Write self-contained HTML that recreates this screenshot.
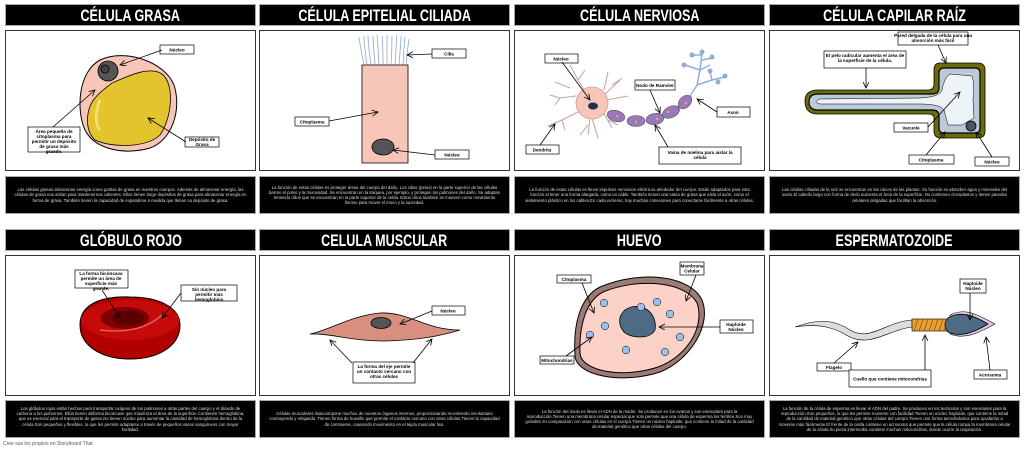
<!DOCTYPE html>
<html><head><meta charset="utf-8"><style>
*{margin:0;padding:0;box-sizing:border-box}
body{width:1024px;height:449px;background:#fff;position:relative;overflow:hidden;font-family:"Liberation Sans",sans-serif}
.t{position:absolute;height:22px;background:#000;color:#fff;font-weight:bold;font-size:17px;text-align:center;line-height:22px;border:1px solid #aaa;white-space:nowrap;overflow:hidden}
.t span{display:inline-block;transform:scaleX(0.74);transform-origin:center}
.b{position:absolute;height:141px;border:1px solid #333;background:#fff}
.d{position:absolute;height:38px;background:#000;border:1px solid #aaa;color:#ddd;font-size:4.3px;line-height:5.2px;text-align:center;display:flex;align-items:center;justify-content:center;padding:0 8px}
.f{position:absolute;left:3px;top:441px;font-size:5px;color:#555}
svg{position:absolute;left:0;top:0}
</style></head><body>
<div class="t" style="left:5px;top:4px;width:251px"><span>CÉLULA GRASA</span></div>
<div class="t" style="left:259px;top:4px;width:251px"><span>CÉLULA EPITELIAL CILIADA</span></div>
<div class="t" style="left:514px;top:4px;width:251px"><span>CÉLULA NERVIOSA</span></div>
<div class="t" style="left:769px;top:4px;width:251px"><span>CÉLULA CAPILAR RAÍZ</span></div>
<div class="b" style="left:5px;top:30px;width:251px"></div>
<div class="b" style="left:259px;top:30px;width:251px"></div>
<div class="b" style="left:514px;top:30px;width:251px"></div>
<div class="b" style="left:769px;top:30px;width:251px"></div>
<div class="d" style="left:5px;top:176px;width:251px">Las células grasas almacenan energía como gotitas de grasa en nuestros cuerpos. Además de almacenar energía, las células de grasa nos aíslan para mantenernos calientes. Ellos tienen large depósitos de grasa para almacenar energía en forma de grasa. También tienen la capacidad de expandirse a medida que llenan su depósito de grasa.</div>
<div class="d" style="left:259px;top:176px;width:251px">La función de estas células es proteger áreas del cuerpo del daño. Los cilios (pelos) en la parte superior de las células barren el polvo y la mucosidad. Se encuentran en la tráquea, por ejemplo, y protegen los pulmones del daño. Se adaptan teniendo cilios que se encuentran en la parte superior de la celda. Estos cilios también se mueven como movimiento lloroso para mover el moco y la suciedad.</div>
<div class="d" style="left:514px;top:176px;width:251px">La función de estas células es llevar impulsos nerviosos eléctricos alrededor del cuerpo. Están adaptados para esta función al tener una forma alargada, como un cable. También tienen una vaina de grasa que aísla el axón, como el aislamiento plástico en los cables.En cada extremo, hay muchas conexiones para conectarse fácilmente a otras células.</div>
<div class="d" style="left:769px;top:176px;width:251px">Las células ciliadas de la raíz se encuentran en las raíces de las plantas. Su función es absorber agua y minerales del suelo.El cabello largo con forma de dedo aumenta el área de la superficie. No contienen cloroplastos y tienen paredes celulares delgadas que facilitan la absorción.</div>

<div class="t" style="left:5px;top:229px;width:251px"><span>GLÓBULO ROJO</span></div>
<div class="t" style="left:259px;top:229px;width:251px"><span>CELULA MUSCULAR</span></div>
<div class="t" style="left:514px;top:229px;width:251px"><span>HUEVO</span></div>
<div class="t" style="left:769px;top:229px;width:251px"><span>ESPERMATOZOIDE</span></div>
<div class="b" style="left:5px;top:255px;width:251px"></div>
<div class="b" style="left:259px;top:255px;width:251px"></div>
<div class="b" style="left:514px;top:255px;width:251px"></div>
<div class="b" style="left:769px;top:255px;width:251px"></div>
<div class="d" style="left:5px;top:400px;width:251px">Los glóbulos rojos están hechos para transportar oxígeno de los pulmones a otras partes del cuerpo y el dióxido de carbono a los pulmones. Ellos tienen abforma biconcave que maximiza el área de la superficie.Contienen hemoglobina, que es esencial para el transporte de gases.No tienen núcleo para aumentar la cantidad de hemoglobina dentro de la célula.Son pequeños y flexibles, lo que les permite adaptarse a través de pequeños vasos sanguíneos con mayor facilidad.</div>
<div class="d" style="left:259px;top:400px;width:251px">Células musculares lisascompone muchos de nuestros órganos internos, proporcionando movimiento involuntario contrayendo y relajando. Tienen forma de huesillo que permite el contacto cercano con otras células.Tienen la capacidad de contraerse, causando movimiento en el tejido muscular liso.</div>
<div class="d" style="left:514px;top:400px;width:251px">La función del óvulo es llevar el ADN de la madre. Se producen en los ovarios y son esenciales para la reproducción.Tienen una membrana celular especial que solo permite que una célula de esperma los fertilice.Son muy grandes en comparación con otras células en el cuerpo.Tienen un núcleo haploide, que contiene la mitad de la cantidad de material genético que otras células del cuerpo.</div>
<div class="d" style="left:769px;top:400px;width:251px">La función de la célula de esperma es llevar el ADN del padre. Se producen en los testículos y son esenciales para la reproducción.Son pequeños, lo que les permite moverse con facilidad.Tienen un núcleo haploide, que contiene la mitad de la cantidad de material genético que otras células del cuerpo.Tienen una forma aerodinámica para ayudarlos a moverse más fácilmente.El frente de la celda contiene un acrosoma que permite que la célula rompa la membrana celular de la célula.Su pieza intermedia contiene muchas mitocondrias, donde ocurre la respiración.</div>
<div class="f">Cree sus los propios en Storyboard That</div>

<svg width="1024" height="449" viewBox="0 0 1024 449" font-family="Liberation Sans, sans-serif" font-size="4.6" font-weight="bold">
<defs><marker id="a" markerWidth="8" markerHeight="8" refX="6" refY="3" orient="auto" markerUnits="userSpaceOnUse"><path d="M0,0 L6,3 L0,6" fill="none" stroke="#000" stroke-width="0.8"/></marker></defs>
<g stroke="#000" stroke-width="0.8">
<path d="M100,60 C125,48 165,62 174,85 C182,110 172,140 150,148 C125,155 95,150 85,130 C76,110 78,72 100,60Z" fill="#f7c6b9" stroke-width="1"/>
<path d="M112,83 C130,75 150,66 162,74 C175,84 172,118 160,135 C146,148 112,148 95,140 C84,130 86,108 95,98 C102,90 106,88 112,83Z" fill="#e3c42e"/>
<path d="M100,100 C95,112 95,124 100,130" stroke="#f0df70" stroke-width="3" fill="none"/>
<circle cx="108" cy="71" r="10" fill="#555"/><circle cx="105" cy="69" r="4" fill="#444"/>
<g fill="#fff" stroke-width="0.7"><rect x="160" y="45" width="34" height="9"/><rect x="28" y="127" width="52" height="25"/><rect x="185" y="137" width="34" height="10"/></g>
<g fill="none" marker-end="url(#a)"><line x1="162" y1="50" x2="120" y2="65"/><line x1="53" y1="127" x2="95" y2="90"/><line x1="186" y1="142" x2="148" y2="118"/></g>
<g stroke="#8fa8c8" stroke-width="0.8" fill="none">
<path d="M364,65 C361,50 360,45 359,37"/><path d="M367,65 C365,50 364,44 364,36"/><path d="M371,65 C369,50 368,44 368,35"/><path d="M375,65 C374,50 373,44 373,36"/><path d="M379,65 C378,50 378,44 377,35"/><path d="M383,65 C383,50 383,44 382,36"/><path d="M387,65 C387,50 387,44 387,35"/><path d="M391,65 C392,50 392,44 392,36"/><path d="M395,65 C396,50 396,44 397,35"/><path d="M399,65 C400,50 401,44 401,36"/><path d="M403,65 C404,50 404,44 405,37"/><path d="M406,65 C407,52 408,46 409,39"/></g>
<path d="M362,65 L408,65 L408,163 L362,163Z" fill="#f7c6b9"/>
<ellipse cx="383" cy="147" rx="11" ry="8" fill="#555"/>
<g fill="#fff" stroke-width="0.7"><rect x="432" y="49" width="34" height="9"/><rect x="295" y="117" width="34" height="9"/><rect x="435" y="150" width="34" height="9"/></g>
<g fill="none" marker-end="url(#a)"><line x1="432" y1="54" x2="407" y2="55"/><line x1="329" y1="121" x2="378" y2="112"/><line x1="435" y1="155" x2="393" y2="150"/></g>
<g stroke="#c9a19a" stroke-width="1" fill="none">
<path d="M592,103 L578,80 L570,65 M578,80 L585,70 M570,88 L555,82 M576,96 L560,98 L550,95 M560,98 L555,105 M578,112 L562,120 L548,126 M562,120 L565,130 M590,118 L588,135 M592,118 L598,138 M588,125 L580,135 M604,95 L620,80 M604,90 L608,72 M612,85 L622,78 M606,100 L628,96 M602,110 L612,128 M608,120 L618,125"/></g>
<circle cx="592" cy="103" r="16" fill="#f7c6b9" stroke="#c9a19a"/>
<ellipse cx="593" cy="106" rx="5" ry="3.5" fill="#1a3050" stroke="none"/>
<g fill="#9a78be" stroke="#555" stroke-width="0.6"><ellipse cx="616" cy="116" rx="9" ry="5.5" transform="rotate(15 616 116)"/><ellipse cx="636" cy="121" rx="9" ry="5.5"/><ellipse cx="655" cy="119" rx="9" ry="5.5" transform="rotate(-10 655 119)"/><ellipse cx="671" cy="112" rx="9" ry="5.5" transform="rotate(-25 671 112)"/><ellipse cx="685" cy="102" rx="8" ry="5.5" transform="rotate(-45 685 102)"/></g>
<g fill="#f0b020" stroke="none"><circle cx="617" cy="116" r="1.2"/><circle cx="636" cy="122" r="1.2"/><circle cx="657" cy="119" r="1.2"/><circle cx="668" cy="112" r="1.2"/><circle cx="686" cy="103" r="1.2"/></g>
<g stroke="#8fb0d8" stroke-width="1.5" fill="none"><path d="M690,96 L697,85 L700,70 L702,54 M697,85 L712,80 L725,77 M700,70 L685,65 M700,70 L710,65 M702,55 L692,55 M702,60 L712,58 M712,80 L710,72"/></g>
<g fill="#8fb0d8" stroke="#6a8ab0" stroke-width="0.4"><circle cx="702" cy="52" r="2.2"/><circle cx="692" cy="55" r="2.2"/><circle cx="712" cy="57" r="2.2"/><circle cx="684" cy="65" r="2.2"/><circle cx="710" cy="71" r="2.2"/><circle cx="725" cy="76" r="2.2"/><circle cx="718" cy="82" r="2.2"/></g>
<g fill="#fff" stroke-width="0.7"><rect x="545" y="54" width="33" height="9"/><rect x="635" y="80" width="40" height="10"/><rect x="717" y="107" width="33" height="10"/><rect x="526" y="145" width="33" height="9"/><rect x="659" y="147" width="82" height="17"/></g>
<g fill="none" marker-end="url(#a)"><line x1="562" y1="62" x2="590" y2="100"/><line x1="650" y1="90" x2="660" y2="113"/><line x1="717" y1="112" x2="697" y2="99"/><line x1="540" y1="145" x2="555" y2="124"/><line x1="668" y1="147" x2="655" y2="125"/></g>
<path d="M940,63 L978,63 Q985,63 985,70 L985,131 Q985,138 978,138 L941,138 Q934,138 934,131 L934,118 Q934,114 928,114 L818,114 Q805,114 805,101 Q805,90 818,90 L928,90 Q934,90 934,84 L934,70 Q934,63 940,63Z" fill="#6d6a0a"/>
<path d="M944,68 L975,68 Q980,68 980,73 L980,128 Q980,133 975,133 L944,133 Q939,133 939,128 L939,116 Q939,110 932,110 L818,110 Q809,110 809,102 Q809,94 818,94 L932,94 Q939,94 939,88 L939,73 Q939,68 944,68Z" fill="#bcc9d8" stroke-width="1.2"/>
<path d="M950,74 L972,76 Q975,85 973,100 L974,118 L962,125 L948,125 L944,110 Q940,104 920,104 L820,104 Q812,102 820,99 L920,98 Q940,97 942,90 Q944,78 950,74Z" fill="#eef3f8" stroke-width="0.5"/>
<circle cx="971" cy="126" r="5" fill="#4a5866"/>
<g fill="#fff" stroke-width="0.7"><rect x="898" y="32" width="70" height="13"/><rect x="824" y="51" width="82" height="17"/><rect x="894" y="123" width="34" height="9"/><rect x="909" y="155" width="45" height="9"/><rect x="975" y="157" width="34" height="9"/></g>
<g fill="none" marker-end="url(#a)"><line x1="938" y1="45" x2="946" y2="63"/><line x1="866" y1="68" x2="866" y2="88"/><line x1="928" y1="127" x2="960" y2="92"/><line x1="926" y1="155" x2="945" y2="132"/><line x1="992" y1="157" x2="976" y2="132"/></g>
<path d="M80,325 C80,300 110,296 130,297 C160,297 180,308 180,325 C180,345 160,359 130,359 C100,359 80,345 80,325Z" fill="#b00000" stroke-width="1"/>
<ellipse cx="130" cy="320" rx="49" ry="20" fill="#c50a0a" stroke="none"/>
<ellipse cx="125" cy="318" rx="24" ry="11" fill="#7e0000" stroke="none"/>
<ellipse cx="128" cy="318" rx="16" ry="7" fill="#5a0000" stroke="none"/>
<path d="M100,330 Q140,335 162,315" stroke="#e86a6a" stroke-width="1.2" fill="none"/>
<g fill="#fff" stroke-width="0.7"><rect x="75" y="270" width="53" height="18"/><rect x="181" y="285" width="56" height="16"/></g>
<g fill="none" marker-end="url(#a)"><line x1="102" y1="290" x2="120" y2="318"/><line x1="181" y1="293" x2="162" y2="318"/></g>
<path d="M310,334 C330,330 350,316 380,313 C410,312 425,330 460,330 C440,336 420,340 385,341 C350,341 330,333 310,334Z" fill="#d98f80" stroke-width="0.8"/>
<ellipse cx="381" cy="323" rx="10" ry="5.5" fill="#555"/>
<g fill="#fff" stroke-width="0.7"><rect x="432" y="306" width="33" height="9"/><rect x="353" y="362" width="62" height="21"/></g>
<g fill="none" marker-end="url(#a)"><line x1="432" y1="311" x2="400" y2="324"/><line x1="352" y1="363" x2="330" y2="340"/><line x1="413" y1="363" x2="432" y2="339"/></g>
<path d="M600,287 C640,270 690,275 702,300 C712,325 690,360 660,372 C620,385 575,375 575,355 C573,325 580,297 600,287Z" fill="#9c7b72" stroke-width="1"/>
<path d="M603,292 C640,277 686,282 697,303 C705,326 688,356 658,367 C622,379 581,371 580,353 C579,325 586,301 603,292Z" fill="#fcd2c8" stroke-width="1"/>
<path d="M625,310 C640,300 658,312 655,330 C650,340 630,338 624,332 C618,325 618,316 625,310Z" fill="#4e6a85"/>
<g fill="#9cc0e6" stroke-width="0.5"><circle cx="604" cy="303" r="3.8"/><circle cx="641" cy="307" r="3.8"/><circle cx="657" cy="302" r="3.8"/><circle cx="670" cy="314" r="3.8"/><circle cx="605" cy="326" r="3.8"/><circle cx="590" cy="335" r="3.8"/><circle cx="680" cy="337" r="3.8"/><circle cx="626" cy="350" r="3.8"/><circle cx="665" cy="352" r="3.8"/></g>
<g fill="#fff" stroke-width="0.7"><rect x="680" y="262" width="24" height="13"/><rect x="557" y="275" width="34" height="8"/><rect x="720" y="320" width="33" height="13"/><rect x="540" y="356" width="34" height="8"/></g>
<g fill="none" marker-end="url(#a)"><line x1="696" y1="275" x2="686" y2="301"/><line x1="582" y1="283" x2="594" y2="313"/><line x1="720" y1="327" x2="659" y2="327"/><line x1="566" y1="356" x2="592" y2="337"/></g>
<path d="M795,327 C820,318 835,320 850,330 C870,342 885,322 912,320 L912,327 C888,330 870,348 848,336 C835,328 820,323 795,327Z" fill="#ddd" stroke-width="0.6"/>
<rect x="912" y="319" width="36" height="12" fill="#e8a030" stroke-width="0.6"/>
<g stroke="#704010" stroke-width="0.6"><path d="M914,331 L918,319 M919,331 L923,319 M924,331 L928,319 M929,331 L933,319 M934,331 L938,319 M939,331 L943,319 M944,331 L948,319"/></g>
<path d="M950,315 C965,307 978,315 995,324 C978,333 965,340 950,334Z" fill="#e8c8e8" stroke-width="0.6"/>
<path d="M948,318 C960,310 975,316 988,324 C975,332 960,338 948,332 C944,327 944,322 948,318Z" fill="#4e6a85"/>
<g fill="#fff" stroke-width="0.7"><rect x="960" y="279" width="26" height="14"/><rect x="817" y="363" width="34" height="8"/><rect x="849" y="370" width="82" height="17"/><rect x="974" y="370" width="33" height="9"/></g>
<g fill="none" marker-end="url(#a)"><line x1="970" y1="293" x2="970" y2="320"/><line x1="834" y1="363" x2="858" y2="342"/><line x1="925" y1="370" x2="925" y2="335"/><line x1="990" y1="370" x2="986" y2="337"/></g>
</g>
<g text-anchor="middle" fill="#000">
<text x="177" y="51.5">Núcleo</text>
<text x="54" y="133">Área pequeña de</text><text x="54" y="138">citoplasma para</text><text x="54" y="143">permitir un depósito</text><text x="54" y="148">de grasa más</text><text x="54" y="153">grande.</text>
<text x="202" y="141">Depósito de</text><text x="202" y="146">Grasa</text>
<text x="449" y="55.5">Cilia</text><text x="312" y="123.5">Citoplasma</text><text x="452" y="156.5">Núcleo</text>
<text x="561" y="60.5">Núcleo</text><text x="655" y="87">Nodo de Ramvier</text><text x="733" y="114">Axon</text><text x="542" y="151.5">Dendrita</text>
<text x="700" y="154">Vaina de mielina para aislar la</text><text x="700" y="159">célula</text>
<text x="933" y="37">Pared delgada de la célula para una</text><text x="933" y="42">absorción más fácil</text>
<text x="865" y="57">El pelo radicular aumenta el área de</text><text x="865" y="62">la superficie de la célula.</text>
<text x="911" y="129.5">Vacuole</text><text x="931" y="161.5">Citoplasma</text><text x="992" y="163.5">Núcleo</text>
<text x="101" y="275">La forma bicóncava</text><text x="101" y="280">permite un área de</text><text x="101" y="285">superficie más</text><text x="101" y="290">grande.</text>
<text x="209" y="291">Sin núcleo para</text><text x="209" y="296">permitir más</text><text x="209" y="301">hemoglobina</text>
<text x="448" y="312.5">Núcleo</text>
<text x="384" y="368">La forma del eje permite</text><text x="384" y="373">un contacto cercano con</text><text x="384" y="378">otras células</text>
<text x="692" y="267.5">Membrana</text><text x="692" y="272.5">Celular</text><text x="574" y="281">Citoplasma</text>
<text x="736" y="326">Haploide</text><text x="736" y="331">Núcleo</text><text x="557" y="362">Mitochondrias</text>
<text x="973" y="285">Haploide</text><text x="973" y="290">Núcleo</text><text x="834" y="369">Flagelo</text>
<text x="890" y="380.5">Cuello que contiene mitocondrias</text><text x="990" y="376.5">Acrosoma</text>
</g>
</svg>
</body></html>
